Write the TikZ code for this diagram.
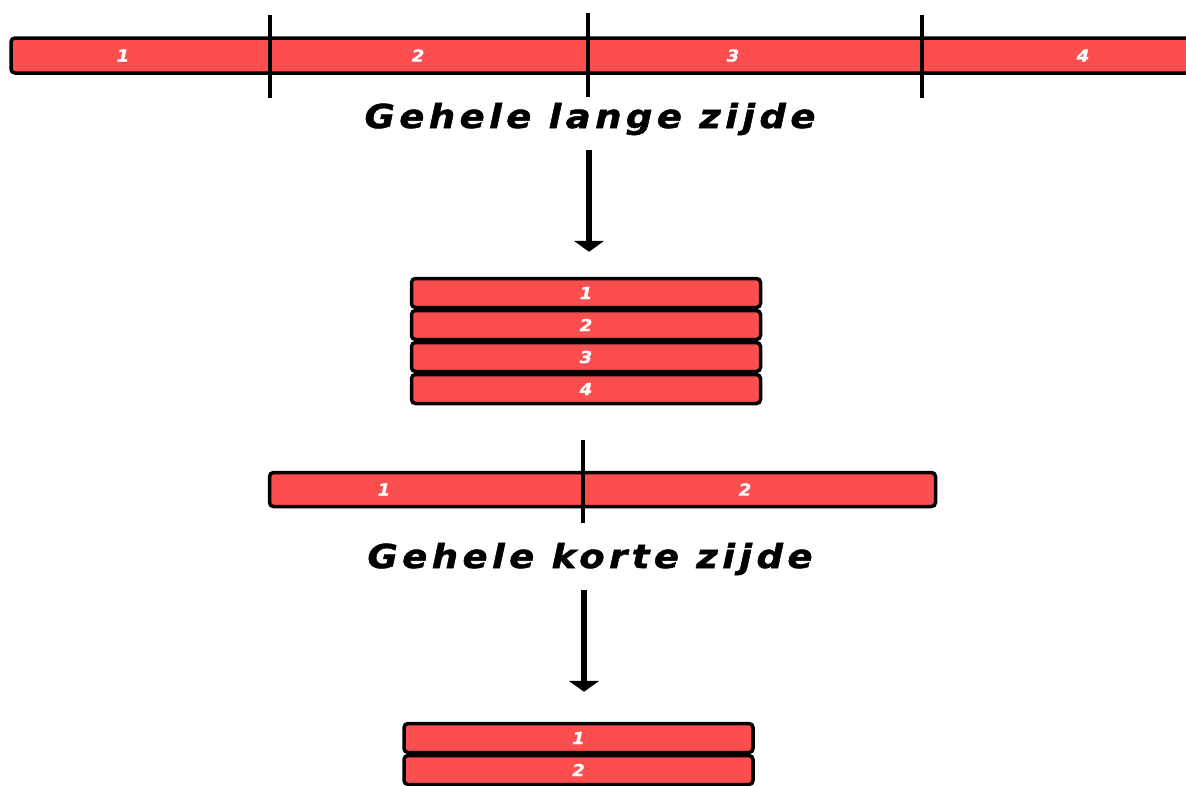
\documentclass[tikz,border=0pt]{standalone}
\usepackage{fontspec}
\setsansfont{DejaVu Sans}
\newfontfamily\titelfont[LetterSpace=13.5,FakeStretch=1.12,FakeBold=1.5]{DejaVu Sans}
\newfontfamily\nrfont[FakeStretch=1.1,FakeBold=1]{DejaVu Sans}
\usepackage{xcolor}
\usetikzlibrary{arrows.meta}
\usetikzlibrary{positioning}
\definecolor{balkrood}{RGB}{252,78,78}

\begin{document}
\begin{tikzpicture}[x=1pt,y=-1pt,node distance=-0.5pt]
 \tikzstyle{balk}=[draw, line width=3.5pt, rounded corners=4pt, fill=balkrood, inner sep=0pt]
 \tikzstyle{nr}=[text=white, font=\nrfont\bfseries\itshape\fontsize{16.5}{18}\selectfont]
 \tikzstyle{rij}=[balk, nr, minimum width=349pt, minimum height=29pt]
 \tikzstyle{titel}=[inner sep=0pt, anchor=base, font=\titelfont\bfseries\itshape\fontsize{33}{38}\selectfont]
 \tikzstyle{deel}=[line width=4pt]
 \tikzstyle{pijl}=[line width=6pt, -{Triangle[width=30pt,length=11pt]}]
 \useasboundingbox (0,0) rectangle (1186,785);

 % gehele lange zijde
 \node[balk, minimum width=1237pt, minimum height=35pt] (lang) at (629.5,55.5) {};
 \node[nr] (l1) at (123,55.5) {1};
 \node[nr] (l2) at (418,55.5) {2};
 \node[nr] (l3) at (733,55.5) {3};
 \node[nr] (l4) at (1083,55.5) {4};
 \draw[deel] (270,15) -- (270,98);
 \draw[deel] (588,13) -- (588,97);
 \draw[deel] (922,15) -- (922,98);
 \node[titel] (titel1) at (590,128) {Gehele lange zijde};

 \node[rij] (s1a) at (586,293) {1};
 \node[rij] (s1b) [below=of s1a] {2};
 \node[rij] (s1c) [below=of s1b] {3};
 \node[rij] (s1d) [below=of s1c] {4};

 % gehele korte zijde
 \node[balk, minimum width=666pt, minimum height=34pt] (kort) at (602.5,489.5) {};
 \node[nr] (k1) at (384,489.5) {1};
 \node[nr] (k2) at (745,489.5) {2};
 \draw[deel] (583,440) -- (583,523);
 \node[titel] (titel2) at (590,568) {Gehele korte zijde};

 \node[rij] (s2a) at (578.5,738) {1};
 \node[rij] (s2b) [below=of s2a] {2};

 \draw[pijl, shorten <=14.5pt, shorten >=25pt] ([xshift=-1pt]titel1.south) -- ([xshift=-1pt]titel1.south |- s1a.north);
 \draw[pijl, shorten <=14.5pt, shorten >=30pt] ([xshift=-6pt]titel2.south) -- ([xshift=-6pt]titel2.south |- s2a.north);
\end{tikzpicture}
\end{document}
